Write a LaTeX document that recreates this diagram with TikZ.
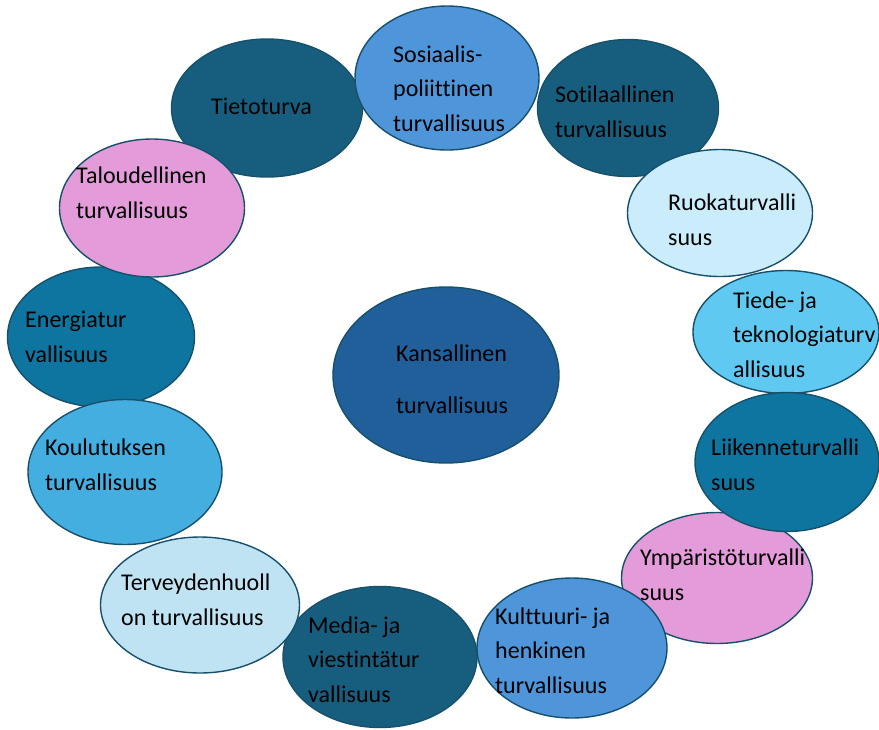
\documentclass[tikz,border=0pt]{standalone}
\usepackage{fontspec}
\setmainfont[Ligatures=NoCommon]{Carlito}
\usetikzlibrary{shapes.geometric}

\definecolor{edge}{HTML}{17506A}
\definecolor{darkteal}{HTML}{175E7E}
\definecolor{teal}{HTML}{0E75A0}
\definecolor{blueA}{HTML}{4E95D9}
\definecolor{midblue}{HTML}{45AEE0}
\definecolor{sky}{HTML}{5FC9F2}
\definecolor{paleA}{HTML}{CBEDFB}
\definecolor{paleB}{HTML}{C0E3F3}
\definecolor{pink}{HTML}{E39CD9}
\definecolor{core}{HTML}{215F9A}

\begin{document}
\begin{tikzpicture}[x=1pt,y=-1pt]
		\tikzstyle{every node}+=[inner sep=0pt]
		\tikzstyle{bubble}=[ellipse, draw=edge, line width=1.4pt]
		\tikzstyle{lbl}=[anchor=base west, align=left, font=\fontsize{24}{34.5}\selectfont]
		\useasboundingbox (0,0) rectangle (879,729);
		% the ring
		\node[bubble, fill=darkteal, minimum width=191pt, minimum height=138pt] (tt) at (267,108) {};
		\node[bubble, fill=blueA, minimum width=184pt, minimum height=144pt] (sos) at (447,78) {};
		\node[bubble, fill=darkteal, minimum width=181pt, minimum height=137pt] (sot) at (628,108) {};
		\node[bubble, fill=paleA, minimum width=185pt, minimum height=127pt] (ruo) at (720,213) {};
		\node[bubble, fill=sky, minimum width=186pt, minimum height=123pt] (tie) at (786,332) {};
		\node[bubble, fill=pink, minimum width=191pt, minimum height=131pt] (ymp) at (717,578) {};
		\node[bubble, fill=teal, minimum width=184pt, minimum height=139pt] (lii) at (787,462) {};
		\node[bubble, fill=blueA, minimum width=190pt, minimum height=140pt] (kul) at (572,648) {};
		\node[bubble, fill=darkteal, minimum width=194pt, minimum height=141pt] (med) at (380,657) {};
		\node[bubble, fill=paleB, minimum width=199pt, minimum height=136pt] (ter) at (200,605) {};
		\node[bubble, fill=teal, minimum width=187pt, minimum height=140pt] (ene) at (101,337) {};
		\node[bubble, fill=midblue, minimum width=194pt, minimum height=145pt] (kou) at (125,472) {};
		\node[bubble, fill=pink, minimum width=185pt, minimum height=138pt] (tal) at (152,208) {};
		% centre
		\node[bubble, fill=core, minimum width=226pt, minimum height=176pt] (kan) at (446,375) {};
		% texts (placed at the baseline of their last line)
		\node[lbl] (tt-txt) at (211,114) {Tietoturva};
		\node[lbl] (sos-txt) at (393,131) {Sosiaalis-\\poliittinen\\turvallisuus};
		\node[lbl] (sot-txt) at (555,137) {Sotilaallinen\\turvallisuus};
		\node[lbl] (ruo-txt) at (668,245) {Ruokaturvalli\\suus};
		\node[lbl] (tie-txt) at (733,377) {Tiede- ja\\teknologiaturv\\allisuus};
		\node[lbl] (lii-txt) at (711,490) {Liikenneturvalli\\suus};
		\node[lbl] (ymp-txt) at (640,600) {Ympäristöturvalli\\suus};
		\node[lbl] (kul-txt) at (495,693) {Kulttuuri- ja\\henkinen\\turvallisuus};
		\node[lbl] (med-txt) at (308,702) {Media- ja\\viestintätur\\vallisuus};
		\node[lbl] (ter-txt) at (121,625) {Terveydenhuoll\\on turvallisuus};
		\node[lbl] (kou-txt) at (45,490) {Koulutuksen\\turvallisuus};
		\node[lbl] (ene-txt) at (25,362) {Energiatur\\vallisuus};
		\node[lbl] (tal-txt) at (76,218) {Taloudellinen\\turvallisuus};
		\node[lbl] (kan-txt) at (396,413) {Kansallinen\\[17.5pt]turvallisuus};
	\end{tikzpicture}
\end{document}
